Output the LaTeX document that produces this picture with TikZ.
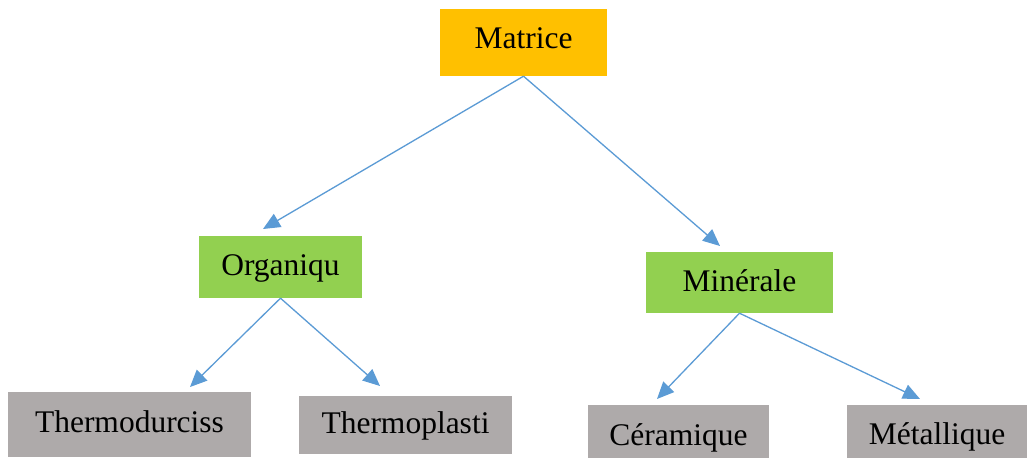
\documentclass[tikz,border=0pt]{standalone}
\usepackage{fontspec}
\setmainfont{Liberation Serif}
\usetikzlibrary{arrows.meta}
\definecolor{orangebox}{HTML}{FFC000}
\definecolor{greenbox}{HTML}{92D050}
\definecolor{graybox}{HTML}{AEAAAA}
\definecolor{arrowblue}{HTML}{5B9BD5}
\begin{document}
\begin{tikzpicture}[x=1pt,y=-1pt,
  box/.style={draw=none,inner sep=0pt,font=\fontsize{31.5}{36}\selectfont,text=black},
  base/.style={text height=#1,text depth=0pt},
  conn/.style={draw=arrowblue,line width=1.3pt,-{Triangle[length=17pt,width=15pt]}}]
\useasboundingbox[fill=white] (0,0) rectangle (1027,458);
\node[box,base=11pt,fill=orangebox,minimum width=167pt,minimum height=67pt] (mat) at (523.5,42.5) {Matrice};
\node[box,base=16pt,fill=greenbox,minimum width=163pt,minimum height=62pt] (org) at (280.5,267) {Organiqu};
\node[box,base=17pt,fill=greenbox,minimum width=187pt,minimum height=61pt] (min) at (739.5,282.5) {Minérale};
\node[box,base=15pt,fill=graybox,minimum width=243pt,minimum height=65pt] (tdu) at (129.5,424.5) {Thermodurciss};
\node[box,base=16pt,fill=graybox,minimum width=213pt,minimum height=58pt] (tpl) at (405.5,425) {Thermoplasti};
\node[box,base=27pt,fill=graybox,minimum width=181pt,minimum height=53pt] (cer) at (678.5,431.5) {Céramique};
\node[box,base=25pt,fill=graybox,minimum width=180pt,minimum height=53pt] (met) at (937,431.5) {Métallique};
\coordinate (torg) at (263,229);
\coordinate (tmin) at (720,246);
\coordinate (ttdu) at (190,387);
\coordinate (ttpl) at (380,386);
\coordinate (tcer) at (657,399);
\coordinate (tmet) at (920,399);
\draw[conn] (mat.south) -- (torg);
\draw[conn] (mat.south) -- (tmin);
\draw[conn] (org.south) -- (ttdu);
\draw[conn] (org.south) -- (ttpl);
\draw[conn] (min.south) -- (tcer);
\draw[conn] (min.south) -- (tmet);
\end{tikzpicture}
\end{document}
